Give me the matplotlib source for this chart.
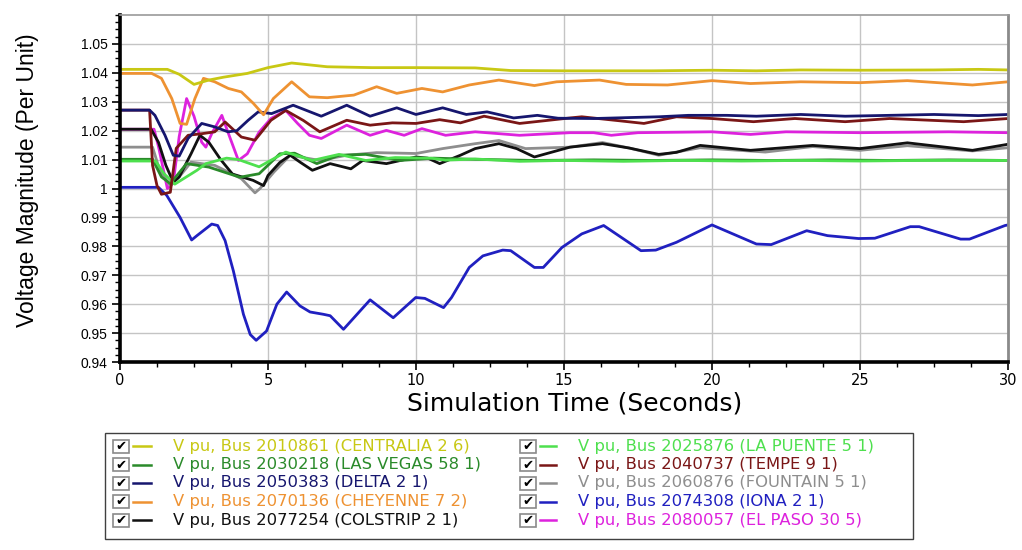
import matplotlib
matplotlib.use("Agg")
import matplotlib.pyplot as plt
from matplotlib.patches import Rectangle
from matplotlib.lines import Line2D
from matplotlib.ticker import MultipleLocator, FixedLocator, FixedFormatter

W, H = 1022, 550

# bus voltage traces (seconds, per unit)
centralia_t = [0, 1.6, 2.0, 2.5, 3.0, 3.5, 4.3, 5.0, 5.8, 7.0, 8.5, 10.0, 12.0, 13.2, 15, 18, 20, 21.5, 23, 25, 27.5, 29, 30]
centralia_v = [1.0412, 1.0412, 1.0395, 1.0360, 1.0375, 1.0385, 1.0398, 1.0418, 1.0434, 1.0421, 1.0418, 1.0418,
               1.0417, 1.0408, 1.0407, 1.0407, 1.0409, 1.0407, 1.0410, 1.0409, 1.0410, 1.0412, 1.0410]

cheyenne_t = [0, 1.07, 1.4, 1.75, 2.03, 2.25, 2.53, 2.82, 3.2, 3.66, 4.1, 4.5, 4.85, 5.18, 5.8, 6.4, 7.0, 7.9,
              8.67, 9.35, 10.2, 10.9, 11.8, 12.8, 14.0, 14.75, 16.2, 17.1, 18.5, 20.0, 21.3, 23.0, 25.0, 26.6, 28.8, 30]
cheyenne_v = [1.0398, 1.0398, 1.0381, 1.0311, 1.0225, 1.0222, 1.0311, 1.0381, 1.0369, 1.0346, 1.0334, 1.0295,
              1.0255, 1.0311, 1.0369, 1.0317, 1.0314, 1.0323, 1.0352, 1.0329, 1.0346, 1.0334, 1.0358, 1.0375,
              1.0356, 1.0369, 1.0375, 1.0360, 1.0358, 1.0373, 1.0363, 1.0369, 1.0366, 1.0373, 1.0358, 1.0369]

delta_t = [0, 1.0, 1.18, 1.52, 1.8, 2.0, 2.3, 2.76, 3.2, 3.65, 3.95, 4.33, 4.67, 5.12, 5.85, 6.8, 7.66, 8.45,
           9.35, 10.0, 10.9, 11.7, 12.4, 13.3, 14.1, 14.8, 16.0, 17.1, 18.2, 19.2, 20.5, 21.5, 23.0, 24.5, 26.0,
           27.5, 29.0, 30]
delta_v = [1.0271, 1.0271, 1.0253, 1.0184, 1.0115, 1.0112, 1.0173, 1.0225, 1.0213, 1.0196, 1.0200, 1.0236,
           1.0265, 1.0259, 1.0288, 1.0250, 1.0288, 1.0250, 1.0279, 1.0256, 1.0279, 1.0256, 1.0265, 1.0244,
           1.0253, 1.0243, 1.0242, 1.0245, 1.0248, 1.0253, 1.0253, 1.0250, 1.0256, 1.0250, 1.0253, 1.0256,
           1.0252, 1.0256]

tempe_t = [0, 1.0, 1.1, 1.25, 1.4, 1.7, 1.9, 2.3, 2.8, 3.2, 3.55, 4.1, 4.56, 5.1, 5.6, 6.2, 6.75, 7.66, 8.45,
           9.2, 10.0, 10.8, 11.5, 12.3, 13.5, 15.2, 15.6, 16.8, 17.7, 18.8, 20.0, 21.4, 22.8, 24.5, 26.0, 28.5, 30]
tempe_v = [1.0271, 1.0271, 1.0080, 1.0010, 0.9980, 0.9987, 1.0139, 1.0184, 1.0190, 1.0196, 1.0230, 1.0178,
           1.0167, 1.0236, 1.0270, 1.0235, 1.0196, 1.0236, 1.0219, 1.0227, 1.0225, 1.0238, 1.0227, 1.0250,
           1.0225, 1.0244, 1.0248, 1.0235, 1.0225, 1.0248, 1.0242, 1.0231, 1.0242, 1.0231, 1.0242, 1.0231, 1.0242]

elpaso_t = [0, 1.15, 1.3, 1.6, 1.8, 2.0, 2.25, 2.5, 2.76, 2.9, 3.1, 3.44, 3.7, 4.0, 4.3, 4.7, 5.1, 5.6, 6.0,
            6.4, 6.8, 7.66, 8.45, 9.0, 9.6, 10.2, 11.0, 12.0, 13.5, 15.2, 16.0, 16.6, 17.5, 20, 21.3, 22.5, 25,
            28, 30]
elpaso_v = [1.0205, 1.0205, 1.0145, 1.0000, 1.0020, 1.0180, 1.0311, 1.0250, 1.0160, 1.0143, 1.0190, 1.0253,
            1.0180, 1.0097, 1.0120, 1.0195, 1.0242, 1.0270, 1.0225, 1.0184, 1.0173, 1.0219, 1.0184, 1.0201,
            1.0184, 1.0207, 1.0184, 1.0196, 1.0184, 1.0193, 1.0193, 1.0184, 1.0193, 1.0196, 1.0187, 1.0196,
            1.0193, 1.0196, 1.0193]

colstrip_t = [0, 1.05, 1.3, 1.55, 1.8, 2.0, 2.4, 2.7, 3.0, 3.4, 3.8, 4.5, 4.85, 5.0, 5.4, 5.75, 6.1, 6.5, 7.1,
              7.8, 8.2, 9.0, 10.0, 10.4, 10.8, 11.5, 12.0, 12.8, 13.4, 14.0, 14.6, 15.2, 16.3, 17.2, 18.2, 18.8,
              19.6, 21.3, 23.4, 25.0, 26.6, 28.8, 30]
colstrip_v = [1.0205, 1.0205, 1.0160, 1.0080, 1.0022, 1.0040, 1.0120, 1.0184, 1.0160, 1.0100, 1.0050, 1.0028,
              1.0010, 1.0045, 1.0090, 1.0115, 1.0090, 1.0063, 1.0086, 1.0068, 1.0097, 1.0086, 1.0109, 1.0105,
              1.0086, 1.0115, 1.0138, 1.0155, 1.0138, 1.0109, 1.0126, 1.0143, 1.0155, 1.0140, 1.0118, 1.0125,
              1.0149, 1.0132, 1.0149, 1.0138, 1.0158, 1.0132, 1.0153]

fountain_t = [0, 1.1, 1.35, 1.7, 2.0, 2.4, 3.2, 3.6, 4.1, 4.56, 4.73, 5.2, 5.75, 6.75, 7.66, 8.67, 10.0, 10.9,
              12.0, 12.8, 13.7, 15.2, 16.3, 17.2, 18.2, 19.6, 21.8, 23.4, 25.0, 26.6, 28.8, 30]
fountain_v = [1.0143, 1.0143, 1.0060, 1.0010, 1.0040, 1.0091, 1.0080, 1.0060, 1.0034, 0.9985, 1.0000, 1.0057,
              1.0115, 1.0097, 1.0115, 1.0124, 1.0121, 1.0138, 1.0155, 1.0166, 1.0138, 1.0143, 1.0159, 1.0140,
              1.0115, 1.0141, 1.0126, 1.0145, 1.0132, 1.0148, 1.0130, 1.0141]

lasvegas_t = [0, 1.1, 1.4, 1.7, 2.25, 3.0, 4.05, 4.7, 5.4, 5.9, 6.65, 7.4, 8.3, 9.46, 10.6, 12, 14, 16, 18, 20,
              22, 24, 26, 28, 30]
lasvegas_v = [1.0101, 1.0101, 1.0040, 1.0017, 1.0086, 1.0074, 1.0039, 1.0051, 1.0120, 1.0122, 1.0086, 1.0115,
              1.0118, 1.0097, 1.0105, 1.0101, 1.0097, 1.0099, 1.0097, 1.0099, 1.0097, 1.0099, 1.0097, 1.0099, 1.0097]

lapuente_t = [0, 1.2, 1.5, 1.85, 2.6, 2.9, 3.6, 4.0, 4.7, 5.6, 6.5, 7.4, 8.3, 9.3, 10.5, 11.0, 12, 13.5, 15, 17,
              19, 21, 23, 25, 27, 30]
lapuente_v = [1.0095, 1.0095, 1.0050, 1.0015, 1.0063, 1.0086, 1.0105, 1.0100, 1.0075, 1.0126, 1.0097, 1.0118,
              1.0097, 1.0107, 1.0105, 1.0098, 1.0102, 1.0094, 1.0097, 1.0094, 1.0097, 1.0095, 1.0097, 1.0095,
              1.0097, 1.0097]

iona_t = [0, 1.3, 1.58, 2.03, 2.42, 2.6, 3.1, 3.3, 3.55, 3.83, 4.17, 4.4, 4.6, 4.95, 5.3, 5.63, 6.08, 6.42,
          6.87, 7.1, 7.55, 8.45, 9.23, 9.99, 10.3, 10.93, 11.2, 11.8, 12.26, 12.93, 13.2, 14.0, 14.3, 14.93,
          15.6, 16.34, 17.6, 18.1, 18.8, 20.0, 21.5, 22.0, 23.2, 23.9, 24.95, 25.5, 26.7, 27.0, 28.4, 28.7, 29.9, 30]
iona_v = [1.0004, 1.0004, 0.9976, 0.9900, 0.9822, 0.9837, 0.9877, 0.9872, 0.9820, 0.9715, 0.9565, 0.9495,
          0.9475, 0.9507, 0.9600, 0.9642, 0.9594, 0.9573, 0.9565, 0.9560, 0.9513, 0.9615, 0.9553, 0.9623,
          0.9620, 0.9588, 0.9623, 0.9727, 0.9767, 0.9787, 0.9785, 0.9727, 0.9727, 0.9796, 0.9843, 0.9872,
          0.9785, 0.9787, 0.9814, 0.9874, 0.9808, 0.9806, 0.9854, 0.9837, 0.9827, 0.9828, 0.9868, 0.9868,
          0.9825, 0.9825, 0.9872, 0.9874]

labels = {
    "centralia": "V pu, Bus 2010861 (CENTRALIA 2 6)",
    "lasvegas": "V pu, Bus 2030218 (LAS VEGAS 58 1)",
    "delta": "V pu, Bus 2050383 (DELTA 2 1)",
    "cheyenne": "V pu, Bus 2070136 (CHEYENNE 7 2)",
    "colstrip": "V pu, Bus 2077254 (COLSTRIP 2 1)",
    "lapuente": "V pu, Bus 2025876 (LA PUENTE 5 1)",
    "tempe": "V pu, Bus 2040737 (TEMPE 9 1)",
    "fountain": "V pu, Bus 2060876 (FOUNTAIN 5 1)",
    "iona": "V pu, Bus 2074308 (IONA 2 1)",
    "elpaso": "V pu, Bus 2080057 (EL PASO 30 5)",
}
colors = {
    "centralia": "#c8c814", "lasvegas": "#2a8a2a", "delta": "#16166e", "cheyenne": "#ee9232",
    "colstrip": "#111111", "lapuente": "#4ee04e", "tempe": "#7a1616", "fountain": "#8e8e8e",
    "iona": "#2020c0", "elpaso": "#dd22dd",
}
series = {
    "centralia": (centralia_t, centralia_v), "lasvegas": (lasvegas_t, lasvegas_v),
    "delta": (delta_t, delta_v), "cheyenne": (cheyenne_t, cheyenne_v),
    "colstrip": (colstrip_t, colstrip_v), "lapuente": (lapuente_t, lapuente_v),
    "tempe": (tempe_t, tempe_v), "fountain": (fountain_t, fountain_v),
    "iona": (iona_t, iona_v), "elpaso": (elpaso_t, elpaso_v),
}
draw_order = ["iona", "elpaso", "fountain", "colstrip", "lasvegas", "lapuente",
              "tempe", "delta", "cheyenne", "centralia"]
legend_cols = [["centralia", "lasvegas", "delta", "cheyenne", "colstrip"],
               ["lapuente", "tempe", "fountain", "iona", "elpaso"]]

ytick_vals = [0.94, 0.95, 0.96, 0.97, 0.98, 0.99, 1.0, 1.01, 1.02, 1.03, 1.04, 1.05]
ytick_text = ["0.94", "0.95", "0.96", "0.97", "0.98", "0.99", "1", "1.01", "1.02", "1.03", "1.04", "1.05"]


def fx(x):
    return x / W


def fy(y):
    return 1 - y / H


fig = plt.figure(figsize=(W / 100, H / 100), dpi=100)
ax = fig.add_axes([fx(120), fy(362), fx(1008) - fx(120), fy(15) - fy(362)])

for key in draw_order:
    t, v = series[key]
    ax.plot(t, v, color=colors[key], lw=2.0, solid_joinstyle="round")

ax.set_xlim(0, 30)
ax.set_ylim(0.94, 1.06)
ax.xaxis.set_major_locator(MultipleLocator(5))
ax.xaxis.set_minor_locator(MultipleLocator(1.25))
ax.yaxis.set_major_locator(FixedLocator(ytick_vals))
ax.yaxis.set_major_formatter(FixedFormatter(ytick_text))
ax.yaxis.set_minor_locator(MultipleLocator(0.0025))
ax.grid(True, which="major", color="#c4c4c4", lw=1.0)
ax.set_axisbelow(True)

ax.tick_params(axis="both", which="major", direction="out", length=6, width=1.2, color="black")
ax.tick_params(axis="both", which="minor", direction="out", length=3.5, width=1.0, color="black")
ax.tick_params(axis="y", labelsize=10, pad=3)
ax.tick_params(axis="x", labelsize=10.5, pad=2)
for lab in ax.get_yticklabels():
    lab.set_family("Liberation Sans")
for lab in ax.get_xticklabels():
    lab.set_family("DejaVu Sans")

ax.spines["left"].set_linewidth(2.6)
ax.spines["bottom"].set_linewidth(2.6)
ax.spines["left"].set_color("black")
ax.spines["bottom"].set_color("black")
ax.spines["top"].set_color("#9a9a9a")
ax.spines["top"].set_linewidth(1.2)
ax.spines["right"].set_color("#8a8a8a")
ax.spines["right"].set_linewidth(2.0)

fig.text(fx(28), fy(180), "Voltage Magnitude (Per Unit)", rotation=90, ha="center", va="center",
         fontsize=16.5, family="Liberation Sans")
fig.text(fx(575), fy(404), "Simulation Time (Seconds)", ha="center", va="center",
         fontsize=18, family="DejaVu Sans")

# legend panel with check boxes
fig.patches.append(Rectangle((fx(105), fy(539)), fx(913) - fx(105), fy(433) - fy(539),
                             transform=fig.transFigure, fill=False, edgecolor="#404040", lw=1.0))
row_y = [446, 464.5, 483, 501.5, 520]
col_x = [(113, 133, 151, 173), (520, 540, 556, 578)]
for (bx, lx0, lx1, tx), keys in zip(col_x, legend_cols):
    for y, key in zip(row_y, keys):
        fig.patches.append(Rectangle((fx(bx), fy(y + 6.5)), fx(bx + 16) - fx(bx), fy(y - 6.5) - fy(y + 6.5),
                                     transform=fig.transFigure, facecolor="white",
                                     edgecolor="#8a8a8a", lw=1.2))
        fig.text(fx(bx + 8.5), fy(y + 0.5), "\u2714", ha="center", va="center", fontsize=9.5,
                 family="DejaVu Sans", color="black")
        fig.lines.append(Line2D([fx(lx0), fx(lx1)], [fy(y), fy(y)], transform=fig.transFigure,
                                color=colors[key], lw=1.8))
        fig.text(fx(tx), fy(y), labels[key], ha="left", va="center", fontsize=11.8,
                 family="DejaVu Sans", color=colors[key])

fig.savefig("out.png", dpi=100)
